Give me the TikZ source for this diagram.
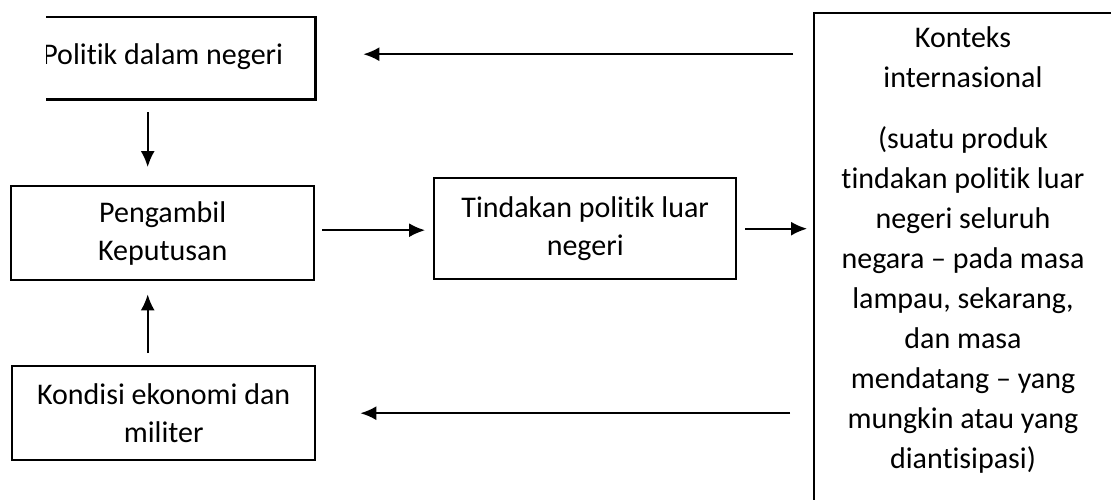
\documentclass[tikz,border=0pt]{standalone}
\usepackage{fontspec}
\setmainfont{Carlito}[Ligatures=NoCommon]
\usepackage{tikz}
\usetikzlibrary{positioning,calc,arrows.meta}
\tikzset{
  bx/.style={draw=black,line width=2.4pt,align=center,inner sep=0pt,
    minimum width=303pt,font=\fontsize{30}{38}\selectfont},
  bxo/.style={bx,draw=none},
  frame/.style={draw=black,line width=2.4pt},
  flow/.style={-{Latex[length=16pt,width=14pt]},draw=black,line width=1.8pt},
  ctx/.style={align=center,font=\fontsize{30}{40}\selectfont},
}

\begin{document}
\begin{tikzpicture}[x=1pt,y=-1pt]
\useasboundingbox (0,0) rectangle (1111,499);

% left column
\begin{scope}
  \clip (46,0) rectangle (330,110);
  \node[bxo,anchor=north west,text height=46pt,text depth=34pt] (pol) at (10,17)
    {Politik dalam negeri};
\end{scope}
\coordinate (cut) at (46,0);
\draw[frame] (pol.north -| cut) -- (pol.north east) -- (pol.south east) -- (pol.south -| cut);

\node[bx,anchor=north west,minimum height=94pt] (peng) at (10,185) {Pengambil\\Keputusan};
\node[bx,anchor=north west,minimum height=94pt] (kond) at (11,365) {Kondisi ekonomi dan\\militer};
\node[bx,anchor=north west,minimum height=101pt,minimum width=302pt] (tind) at (433,177)
  {Tindakan politik luar\\negeri};

% international context
\coordinate (kw) at (814,13);
\draw[frame] ($(kw)+(0,495)$) -- (kw) -- (1116,13);
\node[ctx,anchor=north] (kont) at (963,23)
  {Konteks\\internasional\\[21pt](suatu produk\\tindakan politik luar\\negeri seluruh\\
   negara -- pada masa\\lampau, sekarang,\\dan masa\\mendatang -- yang\\
   mungkin atau yang\\diantisipasi)};

% arrows
\draw[flow] ($(kw |- pol.east)+(-21,-4)$) -- ($(pol.east)+(48,-4)$);
\draw[flow] ($(kw |- kond.east)+(-24,0)$) -- ($(kond.east)+(44,0)$);
\draw[flow] ($(peng.east)+(7,-3)$) -- ($(tind.west |- peng.east)+(-8,-3)$);
\draw[flow] ($(tind.east)+(8,0)$) -- ($(kw |- tind.east)+(-7,0)$);
\draw[flow] ($(pol.south)+(-15,13)$) -- ($(peng.north)+(-15,-18)$);
\draw[flow] ($(kond.north)+(-16,-12)$) -- ($(peng.south)+(-15,13)$);
\end{tikzpicture}
\end{document}
